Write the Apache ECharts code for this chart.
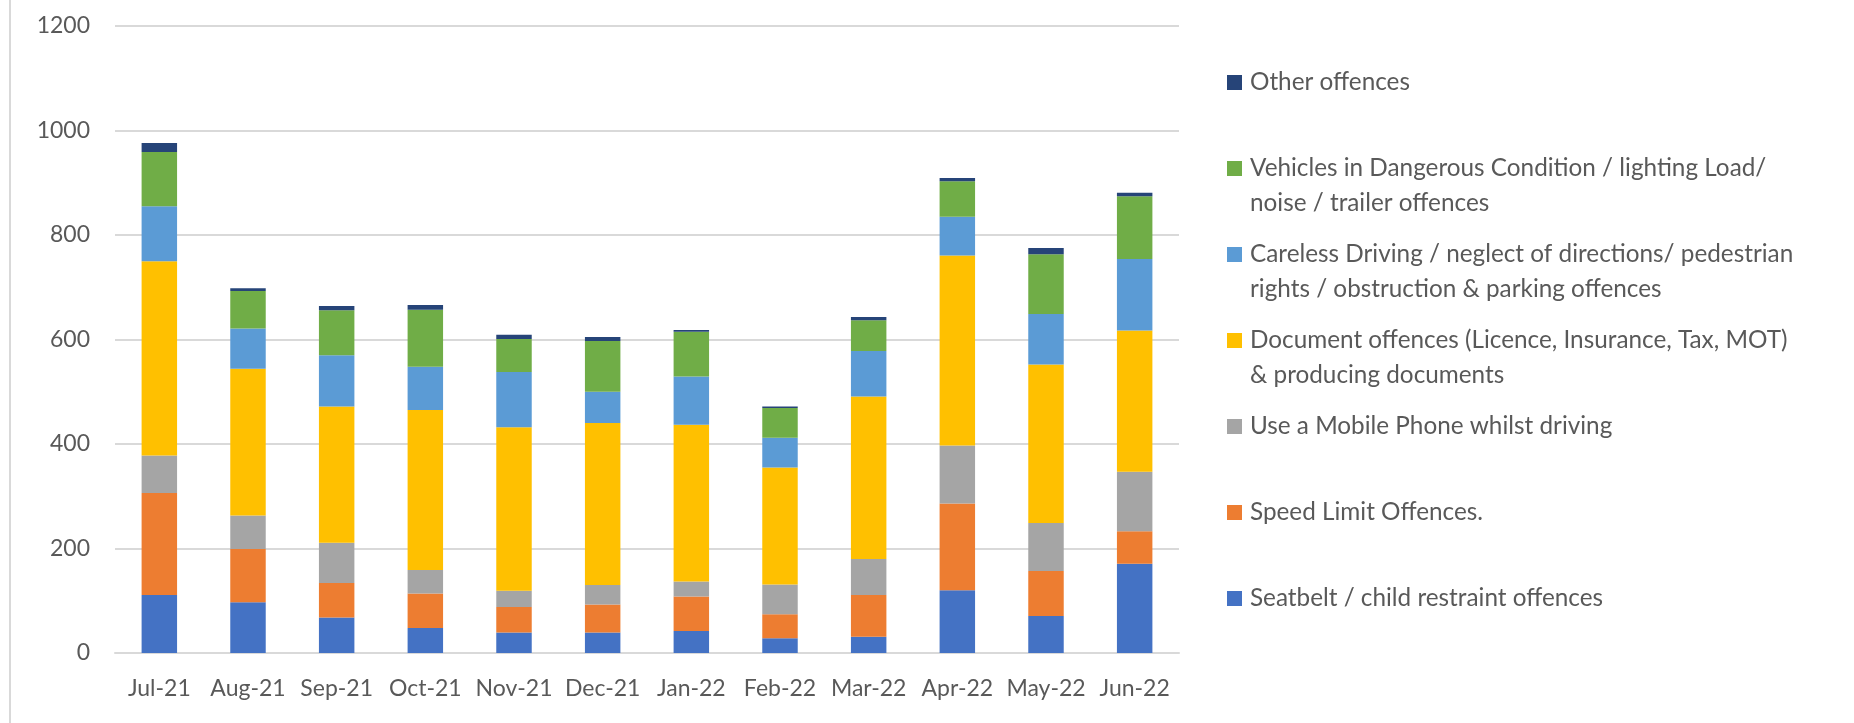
<!DOCTYPE html>
<html>
<head>
<meta charset="utf-8">
<title>Offences by month</title>
<script src="https://cdn.jsdelivr.net/npm/echarts@6/dist/echarts.min.js"></script>
<style>
  html, body { margin: 0; padding: 0; background: #fff; }
  #chart { width: 1854px; height: 723px; }
</style>
</head>
<body>
<div id="chart"></div>
<script>
const months = ['Jul-21', 'Aug-21', 'Sep-21', 'Oct-21', 'Nov-21', 'Dec-21', 'Jan-22', 'Feb-22', 'Mar-22', 'Apr-22', 'May-22', 'Jun-22']
const yTicks = [0, 200, 400, 600, 800, 1000, 1200]

// stacked from the bottom up
const seatbelt = [111, 97, 68, 48, 39, 39, 42, 28, 31, 120, 71, 171]
const speed = [195, 102, 66, 66, 49, 54, 66, 46, 80, 166, 86, 62]
const mobile = [72, 64, 77, 45, 31, 37, 29, 57, 69, 111, 92, 114]
const documents = [372, 281, 261, 306, 313, 310, 300, 224, 311, 364, 303, 270]
const careless = [105, 77, 98, 83, 106, 60, 92, 57, 87, 74, 97, 137]
const vehicles = [104, 72, 86, 109, 63, 97, 86, 57, 59, 68, 114, 120]
const other = [17, 5, 8, 9, 8, 8, 3, 3, 6, 6, 12, 7]

const seriesList = [
  { name: 'Seatbelt / child restraint offences', data: seatbelt, color: '#4472C4' },
  { name: 'Speed Limit Offences.', data: speed, color: '#ED7D31' },
  { name: 'Use a Mobile Phone whilst driving', data: mobile, color: '#A5A5A5' },
  { name: 'Document offences (Licence, Insurance, Tax, MOT)\n& producing documents', data: documents, color: '#FFC000' },
  { name: 'Careless Driving / neglect of directions/ pedestrian\nrights / obstruction & parking offences', data: careless, color: '#5B9BD5' },
  { name: 'Vehicles in Dangerous Condition / lighting Load/\nnoise / trailer offences', data: vehicles, color: '#70AD47' },
  { name: 'Other offences', data: other, color: '#264478' }
]

const font = 'Lato, "Open Sans", sans-serif'
const textColor = '#595959'
const lineColor = '#D9D9D9'

const chart = echarts.init(document.getElementById('chart'))
chart.setOption({
  animation: false,
  backgroundColor: '#fff',
  textStyle: { fontFamily: font },
  graphic: [{
    type: 'line',
    shape: { x1: 10, y1: 0, x2: 10, y2: 723 },
    style: { stroke: lineColor, lineWidth: 2 }
  }],
  grid: {
    left: 115,
    right: 675,
    top: 26,
    bottom: 70,
    containLabel: false
  },
  legend: {
    orient: 'vertical',
    left: 1227,
    top: 65,
    padding: 0,
    itemGap: 16,
    itemWidth: 18,
    itemHeight: 50,
    // square at the top of the item so it lines up with the first text line
    icon: 'path://M0,0H15V15H0Z M18,50',
    data: seriesList.slice().reverse().map(s => s.name),
    formatter: name => name.indexOf('\n') >= 0 ? name : name + '\n ',
    textStyle: {
      fontFamily: font,
      fontSize: 24.3,
      lineHeight: 35,
      color: textColor
    }
  },
  xAxis: {
    type: 'category',
    data: months,
    axisLine: { lineStyle: { color: lineColor, width: 2 } },
    axisTick: { length: 10, lineStyle: { color: lineColor, width: 2 } },
    axisLabel: { interval: 0, fontFamily: font, fontSize: 23, color: textColor, margin: 24 }
  },
  yAxis: {
    type: 'value',
    min: yTicks[0],
    max: yTicks[yTicks.length - 1],
    interval: 200,
    axisLine: { show: false },
    axisTick: { show: false },
    splitLine: { lineStyle: { color: lineColor, width: 2 } },
    axisLabel: { fontFamily: font, fontSize: 23, color: textColor, margin: 25, formatter: v => String(v) }
  },
  series: seriesList.map(s => ({
    name: s.name,
    type: 'bar',
    stack: 'total',
    barWidth: '40%',
    itemStyle: { color: s.color },
    data: s.data
  }))
})
</script>
</body>
</html>
